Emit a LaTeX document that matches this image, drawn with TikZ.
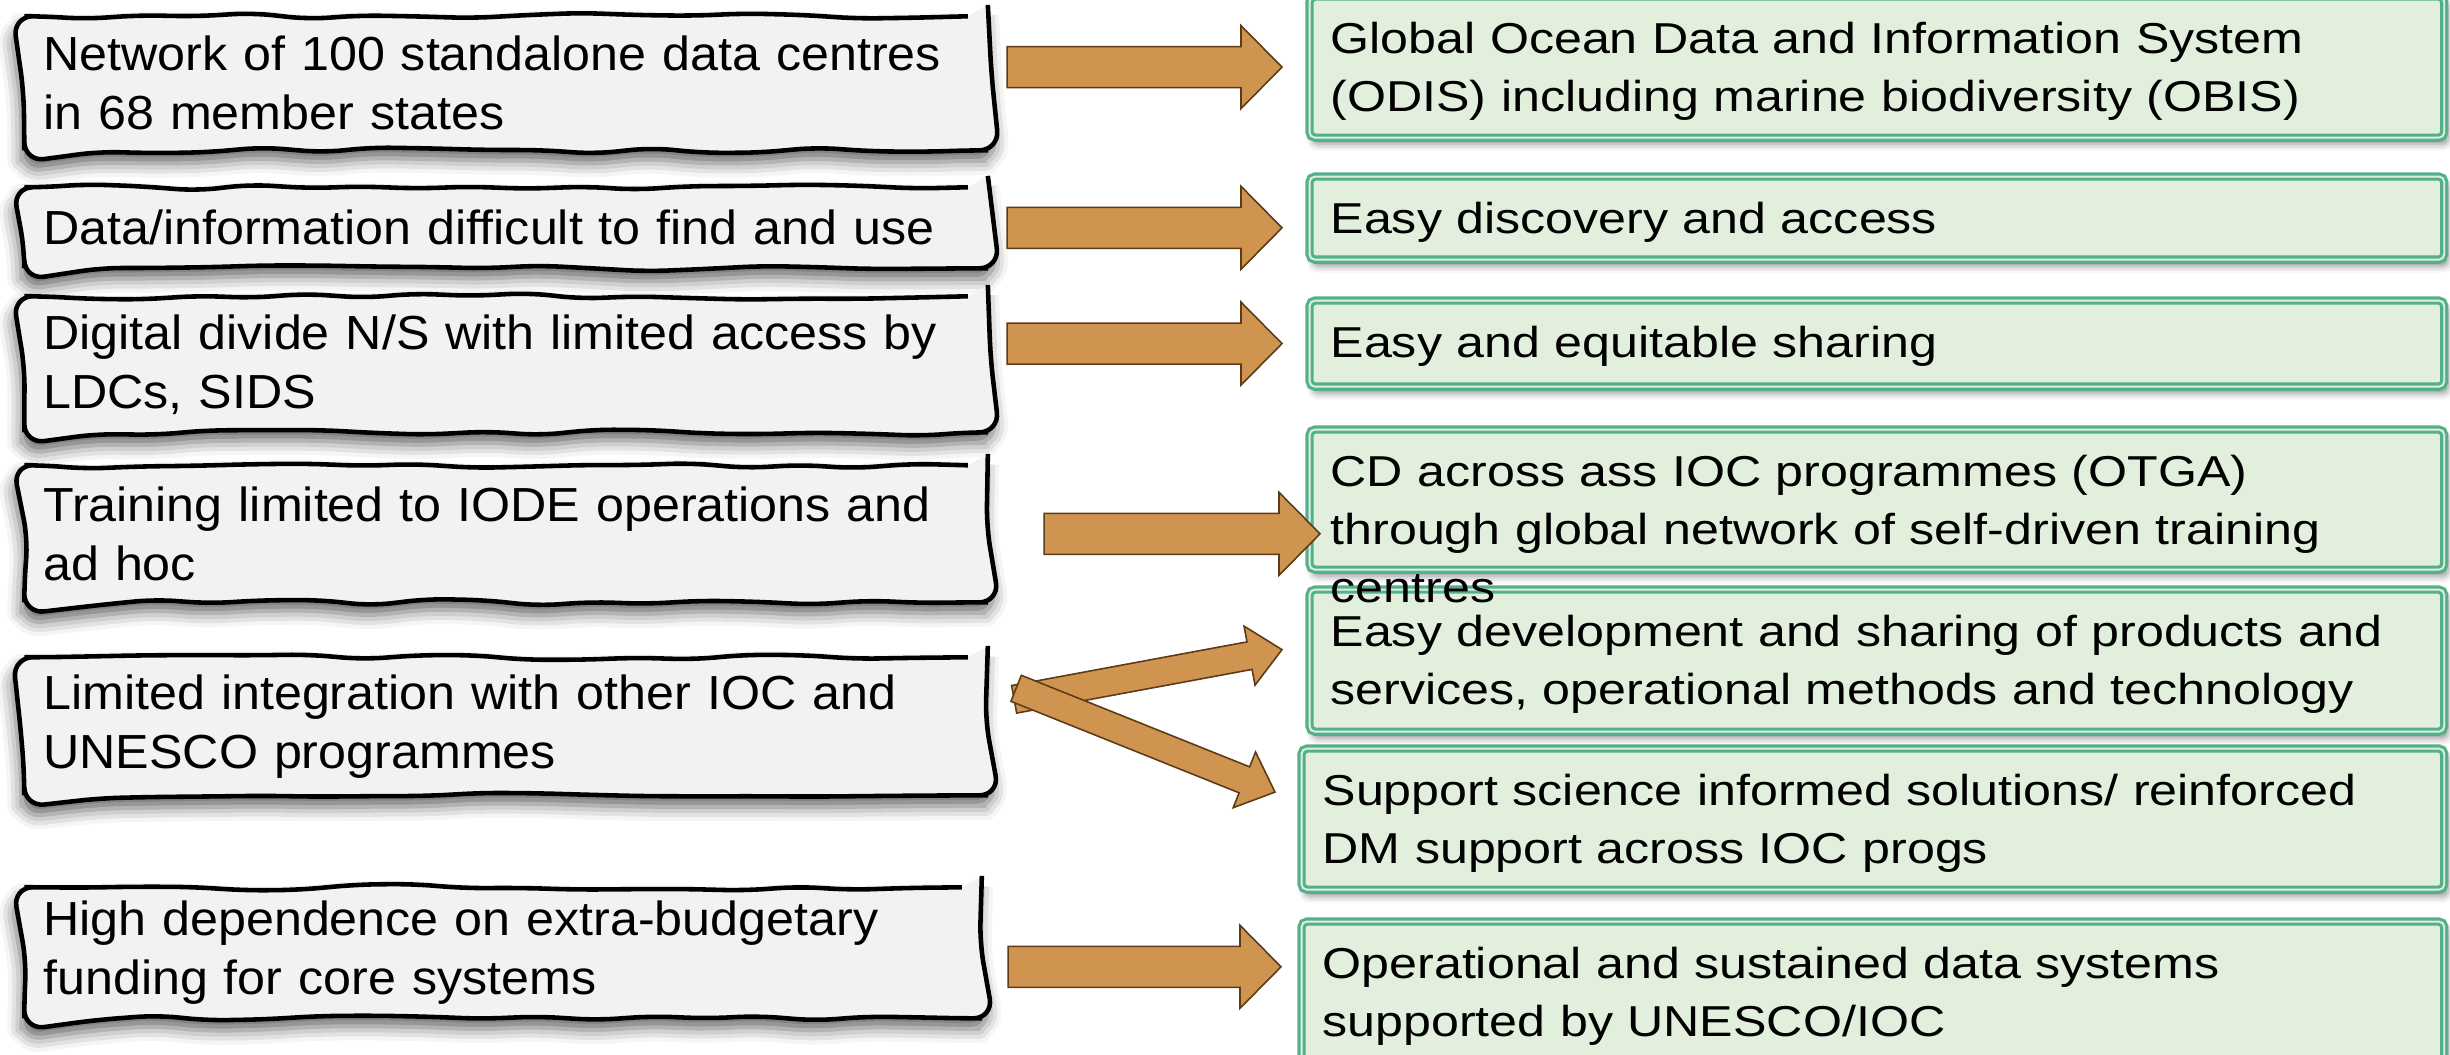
\documentclass[tikz,border=0pt]{standalone}
\usepackage{fontspec}
\setmainfont{Liberation Sans}
\newfontfamily\leftfont{Liberation Sans}[FakeStretch=1.05]
\newfontfamily\rightfont{Liberation Sans}[FakeStretch=1.16]
\usetikzlibrary{calc,decorations.pathmorphing,shadows.blur}
\definecolor{PaperGrey}{HTML}{F2F2F2}
\definecolor{SeaGreen}{HTML}{54B08C}
\definecolor{PaleGreen}{HTML}{E1EFDC}
\definecolor{Ochre}{HTML}{CF9550}
\definecolor{Umber}{HTML}{5C3B16}
\newcommand{\fatarrow}[5]{%
  \coordinate (hb) at ($(#5)!#3!(#4)$);
  \draw[fatfill] ($(#4)!#1!-90:(#5)$) -- ($(hb)!#1!-90:(#5)$) -- ($(hb)!#2!-90:(#5)$) -- (#5)
    -- ($(hb)!#2!90:(#5)$) -- ($(hb)!#1!90:(#5)$) -- ($(#4)!#1!90:(#5)$) -- cycle;}
\tikzset{
  badbox/.style={draw, line width=1.3pt, fill=PaperGrey, anchor=north west,
    inner xsep=0.19cm, align=left, font=\leftfont\fontsize{13.6pt}{16.8pt}\selectfont,
    decorate, decoration={random steps, segment length=0.55cm, amplitude=0.035cm},
    rounded corners=0.2cm,
    blur shadow={shadow xshift=-0.8pt, shadow yshift=-3pt, shadow blur radius=4pt, shadow opacity=60}},
  goodbox/.style={draw=SeaGreen, double=PaleGreen, double distance=0.55pt, line width=0.9pt,
    fill=PaleGreen, rounded corners=1.5pt, anchor=north west, inner xsep=0.21cm, inner ysep=0pt,
    text height=0.57cm, align=left, font=\rightfont\fontsize{12.3pt}{16.5pt}\selectfont,
    blur shadow={shadow xshift=1pt, shadow yshift=-1.8pt, shadow blur radius=2pt, shadow opacity=45}},
  fatfill/.style={fill=Ochre, draw=Umber, line width=0.45pt}
}

\begin{document}
\begin{tikzpicture}[x=0.01cm,y=-0.01cm]
    \useasboundingbox (0,0) rectangle (2450,1055);
    \pgfmathsetseed{3}

    \node[badbox, text width=9.25cm, minimum height=1.34cm] (l1) at (22,14) {Network of 100 standalone data centres\\in 68 member states};
    \node[badbox, text width=9.25cm, minimum height=0.81cm] (l2) at (22,185) {Data/information difficult to find and use};
    \node[badbox, text width=9.25cm, minimum height=1.36cm] (l3) at (22,294) {Digital divide N/S with limited access by\\LDCs, SIDS};
    \node[badbox, text width=9.25cm, minimum height=1.37cm] (l4) at (22,463) {Training limited to IODE operations and\\ad hoc};
    \node[badbox, text width=9.25cm, minimum height=1.38cm] (l5) at (22,655) {Limited integration with other IOC and\\UNESCO programmes};
    \node[badbox, text width=9.19cm, minimum height=1.31cm] (l6) at (22,885) {High dependence on extra-budgetary\\funding for core systems};

    \node[goodbox, text width=10.92cm, text depth=0.84cm] (r1) at (1308,-5) {Global Ocean Data and Information System\\(ODIS) including marine biodiversity (OBIS)};
    \node[goodbox, text width=10.92cm, text depth=0.26cm] (r2) at (1308,175) {Easy discovery and access};
    \node[goodbox, text width=10.92cm, text depth=0.29cm] (r3) at (1308,299) {Easy and equitable sharing};
    \node[goodbox, text width=10.92cm, text depth=0.85cm] (r5) at (1308,588) {Easy development and sharing of products and\\services, operational methods and technology};
    \node[goodbox, text width=10.92cm, text depth=0.83cm] (r4) at (1308,428) {CD across ass IOC programmes (OTGA)\\through global network of self-driven training\\centres};
    \node[goodbox, text width=11.0cm, text depth=0.84cm] (r6) at (1300,747) {Support science informed solutions/ reinforced\\DM support across IOC progs};
    \node[goodbox, text width=11.0cm, text depth=0.83cm] (r7) at (1300,920) {Operational and sustained data systems\\supported by UNESCO/IOC};

    \coordinate (s1) at ($(l1.east |- r1.west)+(17,0)$);
    \coordinate (e1) at ($(r1.west)+(-26,0)$);
    \coordinate (s2) at ($(l2.east)+(17,0)$);
    \coordinate (e2) at ($(r2.west |- l2.east)+(-26,0)$);
    \coordinate (s3) at ($(l3.east |- r3.west)+(17,0)$);
    \coordinate (e3) at ($(r3.west)+(-26,0)$);
    \coordinate (s4) at ($(l4.east)+(54,0)$);
    \coordinate (e4) at ($(r4.west |- l4.east)+(12,0)$);
    \coordinate (s5a) at ($(l5.east)+(24,-27)$);
    \coordinate (e5a) at ($(r5.west)+(-26,-11)$);
    \coordinate (s5b) at ($(l5.east)+(26,-38)$);
    \coordinate (e5b) at ($(r6.west)+(-25,-27)$);
    \coordinate (s6) at ($(l6.east)+(24,14)$);
    \coordinate (e6) at ($(s6 -| r7.west)+(-19,0)$);

    \fatarrow{0.205cm}{0.415cm}{0.41cm}{s1}{e1}
    \fatarrow{0.205cm}{0.415cm}{0.41cm}{s2}{e2}
    \fatarrow{0.205cm}{0.415cm}{0.41cm}{s3}{e3}
    \fatarrow{0.205cm}{0.415cm}{0.41cm}{s4}{e4}
    \fatarrow{0.14cm}{0.30cm}{0.33cm}{s5a}{e5a}
    \fatarrow{0.14cm}{0.30cm}{0.33cm}{s5b}{e5b}
    \fatarrow{0.205cm}{0.415cm}{0.41cm}{s6}{e6}
\end{tikzpicture}
\end{document}
